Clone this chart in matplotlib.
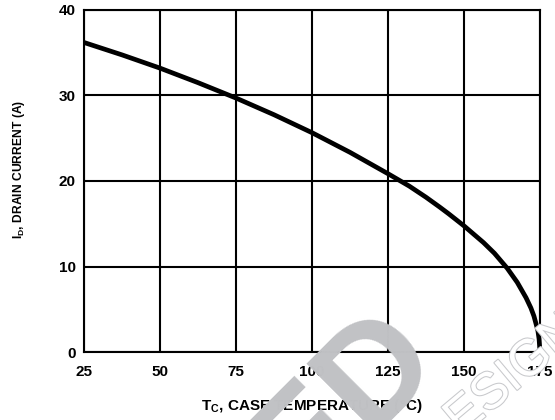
import matplotlib
matplotlib.use("Agg")
import matplotlib.pyplot as plt
import matplotlib.patheffects as pe

plt.rcParams['font.family'] = ['Liberation Sans', 'DejaVu Sans']
plt.rcParams['mathtext.fontset'] = 'custom'
plt.rcParams['mathtext.rm'] = 'Liberation Sans:bold'
plt.rcParams['mathtext.bf'] = 'Liberation Sans:bold'
plt.rcParams['mathtext.it'] = 'Liberation Sans:bold'

# values
case_temp = [25, 37.5, 50, 62.5, 75, 87.5, 100, 112.5, 125, 132, 137.5, 142,
             145, 150, 156.4, 160, 164.2, 167.5, 170.4, 172, 173.0, 174.3,
             174.7, 175]
drain_current = [36.2, 34.75, 33.2, 31.5, 29.7, 27.75, 25.65, 23.35, 20.85,
                 19.4, 18.1, 16.95, 16.15, 14.75, 12.8, 11.55, 9.8, 8.15,
                 6.35, 5.15, 4.2, 2.5, 1.5, 0]

x_ticks = [25, 50, 75, 100, 125, 150, 175]
y_ticks = [0, 10, 20, 30, 40]

fig = plt.figure(figsize=(5.55, 4.2), dpi=100)
ax = fig.add_axes([0.1514, 0.1619, 0.8216, 0.8143])

ax.plot(case_temp, drain_current, color='black', linewidth=3.4,
        solid_capstyle='butt', solid_joinstyle='round', clip_on=False,
        zorder=3)

ax.set_xlim(25, 175)
ax.set_ylim(0, 40)
ax.set_xticks(x_ticks)
ax.set_yticks(y_ticks)
ax.grid(True, color='black', linewidth=1.5)
for s in ax.spines.values():
    s.set_linewidth(1.5)
ax.tick_params(length=0, labelsize=11)
ax.tick_params(axis='x', pad=9)
ax.tick_params(axis='y', pad=6)
for lab in ax.get_xticklabels() + ax.get_yticklabels():
    lab.set_fontweight('bold')

ax.set_xlabel(r'$\mathbf{T_C}$, CASE TEMPERATURE (°C)', fontsize=11,
              fontweight='bold')
ax.xaxis.set_label_coords(0.5, -0.133)
ax.set_ylabel(r'$\mathbf{I_D}$, DRAIN CURRENT (A)', fontsize=8.7,
              fontweight='bold')
ax.yaxis.set_label_coords(-0.125, 0.534)

# watermark
fig.text(442 / 555, 1 - 360 / 420, 'ED', color='#c1c2c5', fontsize=104,
         fontweight='bold', rotation=45, rotation_mode='anchor',
         ha='right', va='baseline', zorder=10)
fig.text(461 / 555, 1 - 437 / 420, 'ESIGN', color='white', fontsize=37,
         rotation=40, rotation_mode='anchor', ha='left', va='baseline',
         zorder=10,
         path_effects=[pe.withStroke(linewidth=1.5, foreground='#c8c9cc')])

fig.savefig('out.png', dpi=100)
